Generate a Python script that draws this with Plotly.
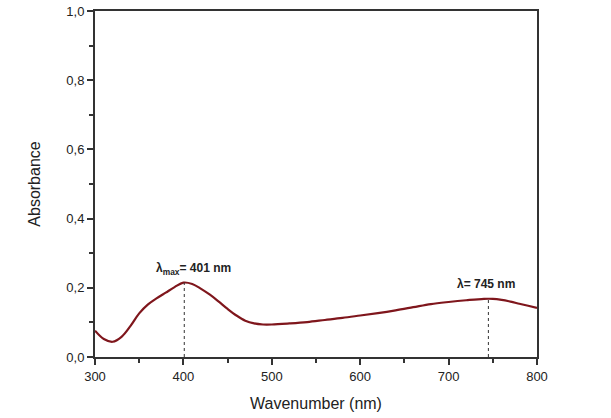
import plotly.graph_objects as go

wavelength = [300, 310, 320, 330, 340, 350, 360, 370, 380, 390, 400, 410, 420, 430,
              440, 450, 460, 470, 480, 490, 500, 520, 540, 560, 580, 600, 620, 640,
              660, 680, 700, 720, 740, 750, 760, 770, 780, 790, 800]
absorbance = [0.076, 0.052, 0.044, 0.058, 0.089, 0.126, 0.152, 0.170, 0.186, 0.202,
              0.215, 0.211, 0.197, 0.180, 0.160, 0.139, 0.120, 0.105, 0.097, 0.094,
              0.094, 0.097, 0.101, 0.107, 0.113, 0.120, 0.127, 0.135, 0.144, 0.153,
              0.159, 0.164, 0.168, 0.168, 0.165, 0.160, 0.154, 0.148, 0.142]

peaks_x = [401, 745]
peaks_y = [0.215, 0.168]
peak_labels = ["λ<sub>max</sub>= 401 nm", "λ= 745 nm"]
label_x = [411, 742]
label_y = [0.255, 0.21]

x_ticks = [300, 400, 500, 600, 700, 800]
y_ticks = [0.0, 0.2, 0.4, 0.6, 0.8, 1.0]
y_ticktext = ["0,0", "0,2", "0,4", "0,6", "0,8", "1,0"]

FONT = "Liberation Sans, Arial"

fig = go.Figure()
fig.add_trace(go.Scatter(x=wavelength, y=absorbance, mode="lines",
                         line=dict(color="#7f161c", width=2.2, shape="spline", smoothing=1.0),
                         showlegend=False))
for px, py in zip(peaks_x, peaks_y):
    fig.add_trace(go.Scatter(x=[px, px], y=[0, py], mode="lines",
                             line=dict(color="#333333", width=1, dash="dot"),
                             showlegend=False))
for lx, ly, t in zip(label_x, label_y, peak_labels):
    fig.add_annotation(x=lx, y=ly, text="<b>" + t + "</b>", showarrow=False,
                       font=dict(family=FONT, size=12, color="#222222"))

axis_common = dict(showline=True, linecolor="#333333", linewidth=2, mirror=True,
                   ticks="outside", tickcolor="#333333", tickwidth=1.5, ticklen=6,
                   showgrid=False, zeroline=False, automargin=False,
                   tickfont=dict(family=FONT, size=13, color="#222222"))

fig.update_xaxes(range=[300, 800], tickvals=x_ticks,
                 minor=dict(ticks="outside", ticklen=4, tickcolor="#333333", tickwidth=1.5, dtick=50),
                 title=dict(text="Wavenumber (nm)", font=dict(family=FONT, size=16, color="#222222"), standoff=15),
                 **axis_common)
fig.update_yaxes(range=[0, 1], tickvals=y_ticks, ticktext=y_ticktext,
                 minor=dict(ticks="outside", ticklen=4, tickcolor="#333333", tickwidth=1.5, dtick=0.1),
                 title=dict(text="Absorbance", font=dict(family=FONT, size=16, color="#222222"), standoff=22),
                 **axis_common)

fig.update_layout(width=611, height=418, margin=dict(l=95, r=74, t=11, b=61),
                  plot_bgcolor="white", paper_bgcolor="white")
fig.write_html("out.html")
